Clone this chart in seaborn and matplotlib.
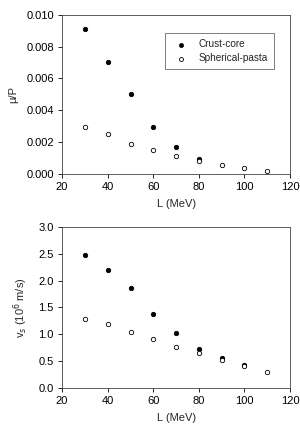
import pandas as pd
import seaborn as sns
import matplotlib.pyplot as plt

# ========== DATA ==========
L_crust = [30, 40, 50, 60, 70, 80]
mu_crust = [0.00908, 0.00701, 0.00505, 0.00292, 0.00171, 0.00094]
L_sph = [30, 40, 50, 60, 70, 80, 90, 100, 110]
mu_sph = [0.00292, 0.00248, 0.0019, 0.0015, 0.0011, 0.00084, 0.00058, 0.0004, 0.0002]

L_crust_v = [30, 40, 50, 60, 70, 80, 90, 100]
vs_crust = [2.48, 2.20, 1.86, 1.38, 1.03, 0.72, 0.56, 0.43]
vs_sph = [1.29, 1.19, 1.04, 0.90, 0.76, 0.64, 0.51, 0.41, 0.29]

x_ticks = [20, 40, 60, 80, 100, 120]
mu_ticks = [0.000, 0.002, 0.004, 0.006, 0.008, 0.010]
vs_ticks = [0.0, 0.5, 1.0, 1.5, 2.0, 2.5, 3.0]

# ========== STYLE ==========
sns.set_style("ticks")
plt.rcParams['font.family'] = ['Liberation Sans', 'DejaVu Sans']
FS = 8

fig = plt.figure(figsize=(3.0, 4.36), dpi=100)
ax1 = fig.add_axes([0.207, 0.601, 0.76, 0.365])
ax2 = fig.add_axes([0.207, 0.111, 0.76, 0.368])

def draw(ax, xc, yc, xs, ys):
    sns.scatterplot(x=xc, y=yc, ax=ax, color="black", edgecolor="black",
                    s=10, linewidth=0.6, label="Crust-core", zorder=3)
    sns.scatterplot(x=xs, y=ys, ax=ax, facecolor="white", edgecolor="black",
                    s=10, linewidth=0.6, label="Spherical-pasta", zorder=3)
    ax.set_xlim(20, 120)
    ax.set_xticks(x_ticks)
    ax.set_xlabel("L (MeV)", fontsize=FS, labelpad=5)
    ax.tick_params(axis="both", labelsize=FS, length=3, width=0.6, direction="out",
                   colors="black", pad=3)
    for sp in ax.spines.values():
        sp.set_visible(True)
        sp.set_linewidth(0.6)
        sp.set_color("#444444")

draw(ax1, L_crust, mu_crust, L_sph, mu_sph)
ax1.set_ylim(0, 0.010)
ax1.set_yticks(mu_ticks)
ax1.set_yticklabels([f"{t:.3f}" for t in mu_ticks])
ax1.set_ylabel("\u03bc/P", fontsize=FS, labelpad=6)
leg = ax1.legend(loc="upper right", bbox_to_anchor=(0.93, 0.885), fontsize=7.2,
                 frameon=True, fancybox=False, borderpad=0.6, handletextpad=0.8,
                 labelspacing=0.4, borderaxespad=0, markerscale=0.9)
leg.get_frame().set_edgecolor("#444444")
leg.get_frame().set_linewidth(0.6)

draw(ax2, L_crust_v, vs_crust, L_sph, vs_sph)
ax2.set_ylim(0, 3.0)
ax2.set_yticks(vs_ticks)
ax2.set_yticklabels([f"{t:.1f}" for t in vs_ticks])
ax2.set_ylabel("v$_s$ (10$^6$ m/s)", fontsize=FS, labelpad=6)
ax2.get_legend().remove()

fig.savefig("out.png", dpi=100)
